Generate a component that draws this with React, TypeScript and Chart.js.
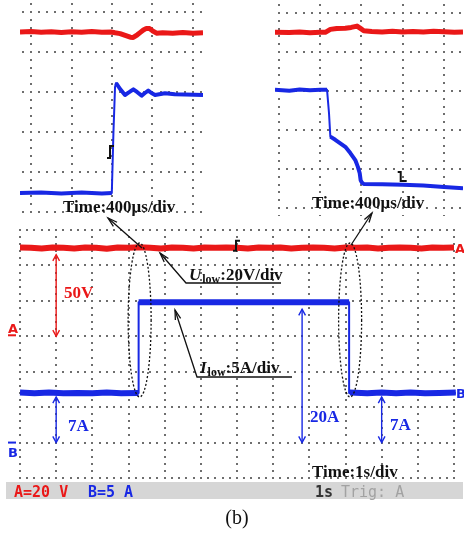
import React, { useEffect, useRef } from "react";
import { Chart, registerables } from "chart.js";
Chart.register(...registerables);

const RED = "rgb(234,24,24)";
const BLUE = "rgb(24,40,228)";
const SERIF = '"Liberation Serif", "Times New Roman", serif';
const MONO = '"DejaVu Sans Mono", monospace';
const SANS = '"DejaVu Sans", sans-serif';

// ---------- main record: 1 s/div, channel A 20 V/div, channel B 5 A/div
const mainRedTime = [0, 0.3, 0.6, 0.9, 1.2, 1.5, 1.8, 2.1, 2.4, 2.7, 3.0, 3.3, 3.6, 3.9, 4.2, 4.5, 4.8, 5.1, 5.4, 5.7, 6.0, 6.3, 6.6, 6.9, 7.2, 7.5, 7.8, 8.1, 8.4, 8.7, 9.0, 9.3, 9.6, 9.9, 10.2, 10.5, 10.8, 11.1, 11.4, 11.7, 12.0];
const mainRedVolts = [50.1, 50.0, 49.5, 50.1, 50.0, 49.6, 50.1, 50.0, 49.4, 50.1, 50.0, 50.2, 50.0, 49.6, 50.1, 50.0, 49.5, 50.1, 50.0, 50.1, 50.0, 49.6, 50.1, 50.0, 50.1, 49.5, 50.0, 50.1, 50.0, 49.6, 50.1, 50.0, 50.1, 49.6, 50.0, 50.1, 50.0, 49.6, 50.1, 50.0, 50.1];
const mainBlueTime = [0, 3.28, 3.28, 9.1, 9.1, 12.05];
const mainBlueAmps = [7.0, 7.0, 19.8, 19.8, 7.0, 7.0];
const mainLowLeftTime = [0, 0.4, 0.8, 1.2, 1.6, 2.0, 2.4, 2.8, 3.28];
const mainLowLeftAmps = [7.05, 6.95, 7.05, 6.95, 7.0, 6.95, 7.05, 6.95, 7.0];
const mainHighTime = [3.28, 5.0, 7.0, 9.1];
const mainHighAmps = [19.8, 19.8, 19.8, 19.8];
const mainLowRightTime = [9.12, 9.6, 10.0, 10.4, 10.8, 11.2, 11.6, 12.05];
const mainLowRightAmps = [7.05, 6.95, 7.05, 6.95, 7.05, 6.95, 7.0, 7.05];

// ---------- left zoom (400 us/div) : rising edge
const leftRedTime = [-109, 0, 100, 200, 300, 400, 500, 600, 700, 790, 830, 880, 930, 980, 1010, 1050, 1080, 1110, 1140, 1170, 1200, 1240, 1300, 1400, 1500, 1600, 1699];
const leftRedVolts = [50.0, 50.2, 49.9, 50.1, 49.8, 50.1, 49.9, 50.2, 49.9, 50.0, 49.6, 49.2, 48.3, 47.4, 47.3, 48.6, 49.8, 51.0, 51.8, 51.7, 50.6, 49.4, 49.6, 49.4, 49.7, 49.4, 49.6];
const leftBlueTime = [-109, 100, 300, 500, 700, 798, 814, 830, 840, 880, 928, 970, 1011, 1050, 1093, 1125, 1158, 1190, 1225, 1323, 1420, 1520, 1699];
const leftBlueAmps = [7.0, 7.05, 6.95, 7.05, 6.95, 7.0, 14.5, 20.25, 20.75, 20.0, 19.25, 19.6, 19.96, 19.6, 19.17, 19.5, 19.8, 19.5, 19.25, 19.46, 19.33, 19.3, 19.25];

// ---------- right zoom (400 us/div) : falling edge
const rightRedTime = [-39, 100, 200, 300, 400, 449, 498, 560, 643, 700, 757, 790, 822, 900, 1000, 1100, 1200, 1300, 1400, 1500, 1600, 1700, 1785];
const rightRedVolts = [50.1, 50.0, 50.3, 49.9, 50.1, 50.1, 51.6, 52.1, 52.2, 52.6, 53.3, 52.1, 50.9, 50.5, 50.3, 50.6, 50.3, 50.5, 50.2, 50.6, 50.4, 50.1, 50.3];
const rightBlueTime = [-39, 100, 200, 300, 400, 466, 485, 498, 546, 643, 692, 740, 766, 783, 792, 805, 822, 1000, 1200, 1400, 1600, 1785];
const rightBlueAmps = [19.2, 19.1, 19.25, 19.15, 19.2, 19.2, 16.2, 13.2, 12.8, 11.9, 11.1, 10.2, 9.3, 8.5, 7.6, 7.3, 7.13, 7.1, 7.05, 6.95, 6.75, 6.6];

const pts = (t: number[], v: number[]) => t.map((x, i) => ({ x, y: v[i] }));
const gap = (x: number) => ({ x, y: null as any });

function range(min: number, max: number, step: number) {
  const out: number[] = [];
  for (let k = Math.ceil(min / step - 1e-9); k * step <= max + 1e-9; k++) out.push(k * step);
  return out;
}

function dotGrid(cfg: { x: string; y: string; xMajor: number; yMajor: number; sub: number }) {
  return {
    id: "dotGrid",
    beforeDatasetsDraw(chart: any) {
      const xs = chart.scales[cfg.x];
      const ys = chart.scales[cfg.y];
      const ctx = chart.ctx;
      ctx.save();
      ctx.fillStyle = "#6e6e6e";
      const dot = (px: number, py: number) => ctx.fillRect(Math.round(px) - 1, Math.round(py) - 1, 2, 2);
      const xMaj = range(xs.min, xs.max, cfg.xMajor);
      const yMaj = range(ys.min, ys.max, cfg.yMajor);
      const xMin = range(xs.min, xs.max, cfg.xMajor / cfg.sub);
      const yMin = range(ys.min, ys.max, cfg.yMajor / cfg.sub);
      for (const yv of yMaj) for (const xv of xMin) dot(xs.getPixelForValue(xv), ys.getPixelForValue(yv));
      for (const xv of xMaj) for (const yv of yMin) dot(xs.getPixelForValue(xv), ys.getPixelForValue(yv));
      ctx.restore();
    },
  };
}

function chevron(ctx: any, x: number, y: number, ang: number, len = 7, spread = 0.42) {
  ctx.beginPath();
  ctx.moveTo(x + len * Math.cos(ang + spread), y + len * Math.sin(ang + spread));
  ctx.lineTo(x, y);
  ctx.lineTo(x + len * Math.cos(ang - spread), y + len * Math.sin(ang - spread));
  ctx.stroke();
}

function dblArrow(ctx: any, x: number, y1: number, y2: number, color: string) {
  ctx.strokeStyle = color;
  ctx.lineWidth = 1.4;
  ctx.beginPath();
  ctx.moveTo(x, y1);
  ctx.lineTo(x, y2);
  ctx.stroke();
  chevron(ctx, x, y1, Math.PI / 2, 7, 0.5);
  chevron(ctx, x, y2, -Math.PI / 2, 7, 0.5);
}

function leader(ctx: any, points: number[][]) {
  ctx.strokeStyle = "#111";
  ctx.lineWidth = 1.3;
  ctx.beginPath();
  ctx.moveTo(points[0][0], points[0][1]);
  for (let i = 1; i < points.length; i++) ctx.lineTo(points[i][0], points[i][1]);
  ctx.stroke();
  const [tx, ty] = points[0];
  const [nx, ny] = points[1];
  chevron(ctx, tx, ty, Math.atan2(ny - ty, nx - tx), 10, 0.28);
}

function subLabel(ctx: any, x: number, y: number, main: string, sub: string, rest: string) {
  ctx.fillStyle = "#111";
  ctx.font = `italic bold 17px ${SERIF}`;
  ctx.fillText(main, x, y);
  let w = ctx.measureText(main).width;
  ctx.font = `bold 12px ${SERIF}`;
  ctx.fillText(sub, x + w + 1, y + 3);
  w += ctx.measureText(sub).width + 1;
  ctx.font = `bold 17px ${SERIF}`;
  ctx.fillText(rest, x + w, y);
}

const mainAnnotations = {
  id: "mainAnnotations",
  afterDraw(chart: any) {
    const ctx = chart.ctx;
    const xs = chart.scales.x;
    const ya = chart.scales.yA;
    const yb = chart.scales.yB;
    ctx.save();
    ctx.textBaseline = "alphabetic";
    ctx.textAlign = "left";

    // status bar
    ctx.fillStyle = "#d6d6d6";
    ctx.fillRect(6, 482, 457, 17);
    ctx.font = `bold 15px ${MONO}`;
    ctx.fillStyle = RED;
    ctx.fillText("A=20 V", 14, 497);
    ctx.fillStyle = BLUE;
    ctx.fillText("B=5 A", 88, 497);
    ctx.fillStyle = "#333";
    ctx.fillText("1s", 315, 497);
    ctx.font = `15px ${MONO}`;
    ctx.fillStyle = "#a2a2a2";
    ctx.fillText("Trig: A", 341, 497);

    // channel markers
    ctx.font = `bold 13px ${SANS}`;
    ctx.fillStyle = RED;
    ctx.fillText("A", 455, ya.getPixelForValue(50) + 5);
    ctx.fillText("A", 8, ya.getPixelForValue(0) - 3);
    ctx.fillRect(8, ya.getPixelForValue(0) - 2, 8, 2);
    ctx.fillStyle = BLUE;
    ctx.fillText("B", 456, yb.getPixelForValue(7) + 5);
    ctx.fillText("B", 8, yb.getPixelForValue(0) + 14);
    ctx.fillRect(8, yb.getPixelForValue(0) - 1, 8, 2);

    // trigger mark
    const tx = xs.getPixelForValue(6) - 1;
    const ty = ya.getPixelForValue(50);
    ctx.strokeStyle = "#111";
    ctx.lineWidth = 2;
    ctx.beginPath();
    ctx.moveTo(tx - 3, ty + 3);
    ctx.lineTo(tx, ty + 3);
    ctx.lineTo(tx, ty - 7);
    ctx.lineTo(tx + 4, ty - 7);
    ctx.stroke();

    // measurement arrows
    dblArrow(ctx, xs.getPixelForValue(1), ya.getPixelForValue(50) + 7, ya.getPixelForValue(0), RED);
    dblArrow(ctx, xs.getPixelForValue(1), yb.getPixelForValue(7) + 4, yb.getPixelForValue(0), BLUE);
    dblArrow(ctx, xs.getPixelForValue(7.8), yb.getPixelForValue(19.8) + 7, yb.getPixelForValue(0), BLUE);
    dblArrow(ctx, xs.getPixelForValue(10), yb.getPixelForValue(7) + 4, yb.getPixelForValue(0), BLUE);

    ctx.font = `bold 17px ${SERIF}`;
    ctx.fillStyle = RED;
    ctx.fillText("50V", 64, 298);
    ctx.fillStyle = BLUE;
    ctx.fillText("7A", 68, 431);
    ctx.fillText("20A", 310, 422);
    ctx.fillText("7A", 390, 430);

    // dotted ellipses around the edges
    ctx.strokeStyle = "#111";
    ctx.lineWidth = 1.3;
    ctx.setLineDash([2, 2]);
    ctx.beginPath();
    ctx.ellipse(xs.getPixelForValue(3.28) + 1, 320, 11.5, 77, 0, 0, Math.PI * 2);
    ctx.stroke();
    ctx.beginPath();
    ctx.ellipse(xs.getPixelForValue(9.1) + 1, 320, 11.5, 77, 0, 0, Math.PI * 2);
    ctx.stroke();
    ctx.setLineDash([]);

    // leaders to zoom labels
    leader(ctx, [[108, 218], [142, 248]]);
    leader(ctx, [[372, 213], [351, 245]]);
    leader(ctx, [[160, 253], [186, 283], [281, 283]]);
    leader(ctx, [[175, 310], [197, 377], [292, 377]]);

    ctx.fillStyle = "#111";
    ctx.font = `bold 17px ${SERIF}`;
    ctx.fillText("Time:400\u03bcs/div", 63, 212);
    ctx.fillText("Time:400\u03bcs/div", 312, 208);
    ctx.fillText("Time:1s/div", 312, 477);
    subLabel(ctx, 189, 280, "U", "low", ":20V/div");
    subLabel(ctx, 200, 373, "I", "low", ":5A/div");

    ctx.font = `20px ${SERIF}`;
    ctx.textAlign = "center";
    ctx.fillText("(b)", 237, 524);
    ctx.restore();
  },
};

function triggerMark(value: number, rising: boolean, yTop: number, yBot: number) {
  return {
    id: "trig",
    afterDatasetsDraw(chart: any) {
      const ctx = chart.ctx;
      const x = chart.scales.x.getPixelForValue(value) - 2;
      ctx.save();
      ctx.strokeStyle = "#111";
      ctx.lineWidth = 2;
      ctx.beginPath();
      if (rising) {
        ctx.moveTo(x - 3, yBot);
        ctx.lineTo(x, yBot);
        ctx.lineTo(x, yTop);
        ctx.lineTo(x + 4, yTop);
      } else {
        ctx.moveTo(x - 3, yTop);
        ctx.lineTo(x, yTop);
        ctx.lineTo(x, yBot);
        ctx.lineTo(x + 6, yBot);
      }
      ctx.stroke();
      ctx.restore();
    },
  };
}

function baseOptions(padding: any, scales: any) {
  return {
    responsive: false,
    maintainAspectRatio: false,
    animation: false,
    devicePixelRatio: 1,
    events: [],
    layout: { padding },
    plugins: { legend: { display: false }, tooltip: { enabled: false }, title: { display: false } },
    elements: { point: { radius: 0 }, line: { tension: 0, borderCapStyle: "butt", borderJoinStyle: "round" } },
    scales,
  };
}

const lin = (min: number, max: number) => ({ type: "linear", min, max, display: false });

export default function App() {
  const mainRef = useRef<HTMLCanvasElement>(null);
  const leftRef = useRef<HTMLCanvasElement>(null);
  const rightRef = useRef<HTMLCanvasElement>(null);

  useEffect(() => {
    const charts: Chart[] = [];

    // left zoom
    const leftThick = [
      ...pts(leftBlueTime.slice(0, 6), leftBlueAmps.slice(0, 6)),
      gap(820),
      ...pts(leftBlueTime.slice(8), leftBlueAmps.slice(8)),
    ];
    charts.push(
      new Chart(leftRef.current as HTMLCanvasElement, {
        type: "line",
        data: {
          datasets: [
            { data: pts(leftRedTime, leftRedVolts), yAxisID: "yA", borderColor: RED, borderWidth: 5 },
            { data: pts(leftBlueTime, leftBlueAmps), yAxisID: "yB", borderColor: BLUE, borderWidth: 2 },
            { data: leftThick, yAxisID: "yB", borderColor: BLUE, borderWidth: 4 },
          ],
        },
        options: baseOptions(0, { x: lin(-109, 1699), yA: lin(-42, 66), yB: lin(4.125, 31.125) }) as any,
        plugins: [dotGrid({ x: "x", y: "yA", xMajor: 400, yMajor: 20, sub: 5 }), triggerMark(800, true, 146, 158)],
      })
    );

    // right zoom
    const rightThick = [
      ...pts(rightBlueTime.slice(0, 6), rightBlueAmps.slice(0, 6)),
      gap(490),
      ...pts(rightBlueTime.slice(7), rightBlueAmps.slice(7)),
    ];
    charts.push(
      new Chart(rightRef.current as HTMLCanvasElement, {
        type: "line",
        data: {
          datasets: [
            { data: pts(rightRedTime, rightRedVolts), yAxisID: "yA", borderColor: RED, borderWidth: 5 },
            { data: pts(rightBlueTime, rightBlueAmps), yAxisID: "yB", borderColor: BLUE, borderWidth: 2 },
            { data: rightThick, yAxisID: "yB", borderColor: BLUE, borderWidth: 4 },
          ],
        },
        options: baseOptions(0, { x: lin(-39, 1785), yA: lin(-44.1, 66.67), yB: lin(3.03, 30.72) }) as any,
        plugins: [dotGrid({ x: "x", y: "yA", xMajor: 400, yMajor: 20, sub: 5 }), triggerMark(1200, false, 172, 181)],
      })
    );

    // main record
    const mainThick = [
      ...pts(mainLowLeftTime, mainLowLeftAmps),
      gap(3.28),
      ...pts(mainHighTime, mainHighAmps),
      gap(9.11),
      ...pts(mainLowRightTime, mainLowRightAmps),
    ];
    charts.push(
      new Chart(mainRef.current as HTMLCanvasElement, {
        type: "line",
        data: {
          datasets: [
            { data: pts(mainRedTime, mainRedVolts), yAxisID: "yA", borderColor: RED, borderWidth: 6, clip: 6 },
            { data: pts(mainBlueTime, mainBlueAmps), yAxisID: "yB", borderColor: BLUE, borderWidth: 2, clip: 6 },
            { data: mainThick, yAxisID: "yB", borderColor: BLUE, borderWidth: 6, clip: 6 },
          ],
        },
        options: baseOptions({ left: 20, top: 230, right: 10, bottom: 55 }, {
          x: lin(0, 12),
          yA: lin(-80, 60),
          yB: lin(-5, 30),
        }) as any,
        plugins: [dotGrid({ x: "x", y: "yA", xMajor: 1, yMajor: 20, sub: 5 }), mainAnnotations],
      })
    );

    return () => charts.forEach((c) => c.destroy());
  }, []);

  return (
    <div style={{ position: "absolute", left: 0, top: 0, width: 464, height: 533, background: "#fff", overflow: "hidden" }}>
      <canvas ref={leftRef} width={183} height={216} style={{ position: "absolute", left: 20, top: 0 }} />
      <canvas ref={rightRef} width={188} height={216} style={{ position: "absolute", left: 275, top: 0 }} />
      <canvas ref={mainRef} width={464} height={533} style={{ position: "absolute", left: 0, top: 0 }} />
    </div>
  );
}
